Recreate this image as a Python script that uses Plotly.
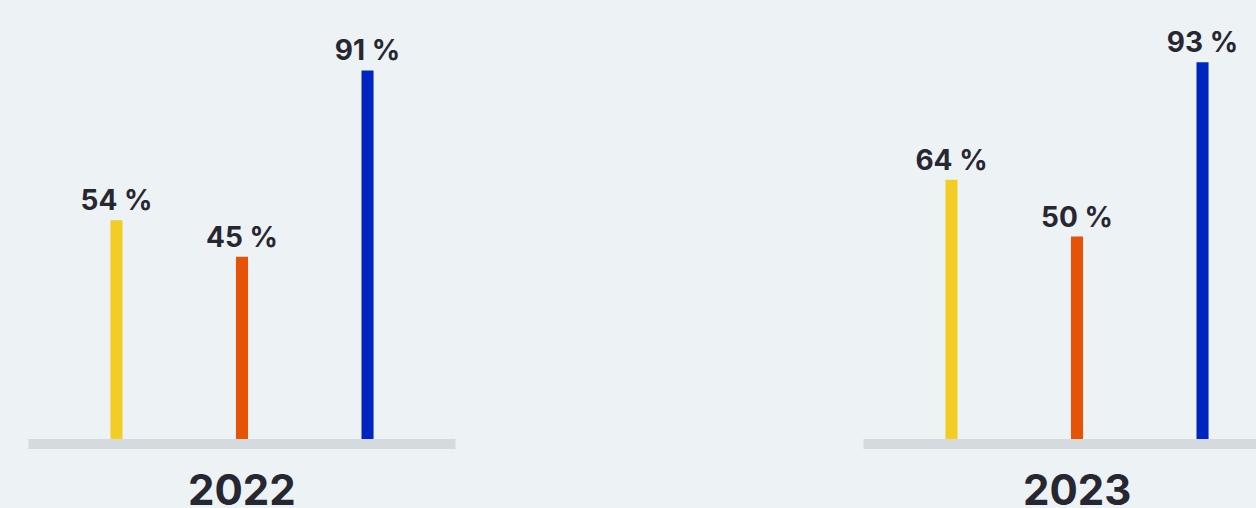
import plotly.graph_objects as go

years = ["2022", "2023"]
series_names = ["A", "B", "C"]
values = {
    "A": [54, 64],
    "B": [45, 50],
    "C": [91, 93],
}
colors = {"A": "#F2CD24", "B": "#E55306", "C": "#0024BF"}

BG = "#EDF2F5"
TXT = "#272732"
FONT = "Inter"

fig = go.Figure()
xs = list(range(len(years)))
for s in series_names:
    fig.add_trace(go.Bar(
        x=xs, y=values[s], name=s,
        marker=dict(color=colors[s], line=dict(width=0)),
        text=[f"{v} %" for v in values[s]],
        textposition="outside",
        constraintext="none",
        cliponaxis=False,
        textfont=dict(family=FONT, size=28, color=TXT, weight="bold"),
        hoverinfo="skip",
    ))

# baselines and year labels
half = 213.5 / 835
for i, yr in enumerate(years):
    fig.add_shape(type="rect", xref="x", yref="y",
                  x0=i - half, x1=i + half, y0=0, y1=-10 / 4.05,
                  fillcolor="#D5DADF", line=dict(width=0), layer="below")
    fig.add_annotation(x=i, y=-50 / 4.05, xref="x", yref="y", text=yr,
                       showarrow=False, yanchor="middle",
                       font=dict(family=FONT, size=42, color=TXT, weight="bold"))

fig.update_layout(
    width=1256, height=508,
    margin=dict(l=0, r=0, t=0, b=0),
    paper_bgcolor=BG, plot_bgcolor=BG,
    barmode="group", bargap=0.549, bargroupgap=0.904,
    showlegend=False,
    xaxis=dict(range=[-242 / 835, (1256 - 242) / 835], visible=False, fixedrange=True),
    yaxis=dict(range=[-(508 - 439) / 4.05, 439 / 4.05], visible=False, fixedrange=True),
)

fig.write_html("out.html")
